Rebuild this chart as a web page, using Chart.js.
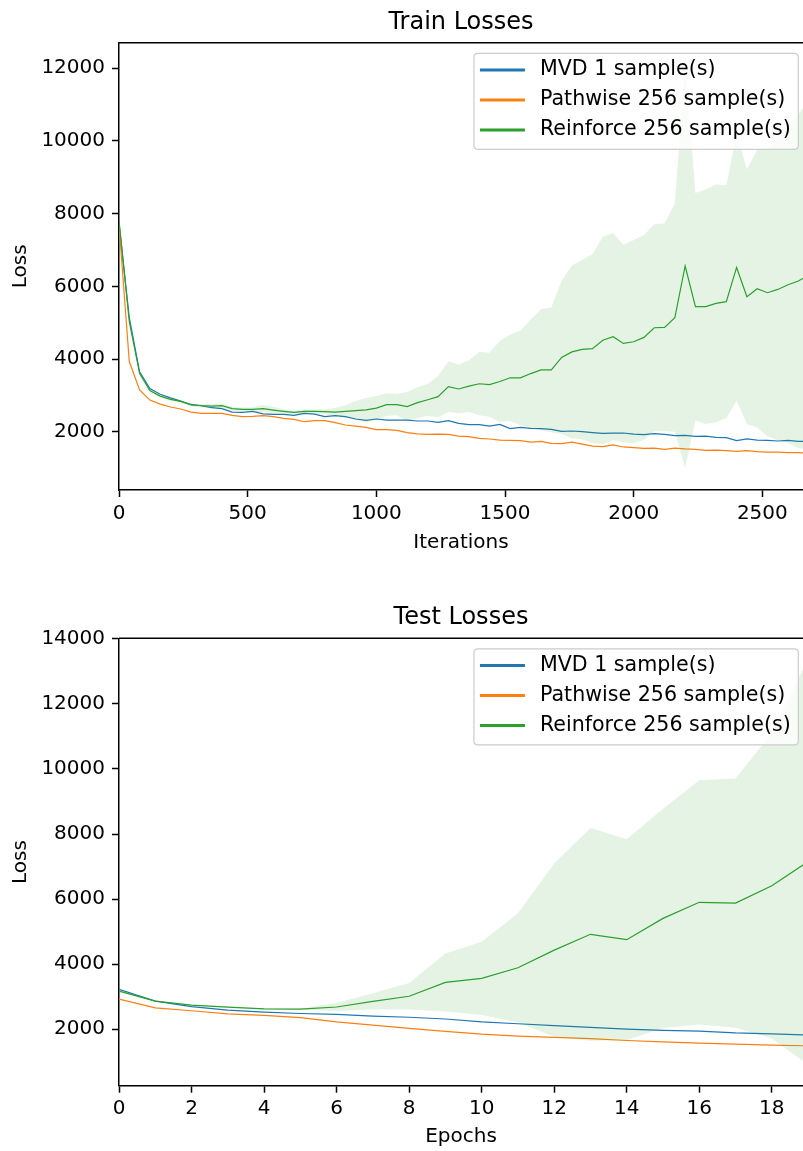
<!DOCTYPE html>
<html>
<head>
<meta charset="utf-8">
<title>Train and Test Losses</title>
<script src="https://cdn.jsdelivr.net/npm/chart.js@4.4.0/dist/chart.umd.min.js"></script>
<style>
    html, body { margin: 0; padding: 0; background: #fff; }
    canvas { display: block; }
</style>
</head>
<body>
<canvas id="trainChart" width="803" height="575"></canvas>
<canvas id="testChart" width="803" height="576"></canvas>
<script>
// ---- data ----
const seriesNames = ['MVD 1 sample(s)', 'Pathwise 256 sample(s)', 'Reinforce 256 sample(s)'];
const seriesColors = ['#1f77b4', '#ff7f0e', '#2ca02c'];

const trainIters = [
    0, 40, 80, 120, 160, 200, 240, 280, 320, 360,
    400, 440, 480, 520, 560, 600, 640, 680, 720, 760,
    800, 840, 880, 920, 960, 1000, 1040, 1080, 1120, 1160,
    1200, 1240, 1280, 1320, 1360, 1400, 1440, 1480, 1520, 1560,
    1600, 1640, 1680, 1720, 1760, 1800, 1840, 1880, 1920, 1960,
    2000, 2040, 2080, 2120, 2160, 2200, 2240, 2280, 2320, 2360,
    2400, 2440, 2480, 2520, 2560, 2600, 2640, 2680
];
const mvdTrain = [
    7750, 5140, 3650, 3190, 3030, 2930, 2840, 2750, 2715, 2660,
    2635, 2540, 2530, 2560, 2490, 2475, 2475, 2450, 2505, 2485,
    2415, 2440, 2415, 2350, 2310, 2350, 2320, 2320, 2320, 2295,
    2295, 2255, 2305, 2230, 2195, 2195, 2155, 2200, 2085, 2120,
    2090, 2085, 2065, 2010, 2020, 2000, 1975, 1955, 1960, 1965,
    1935, 1920, 1945, 1925, 1890, 1900, 1870, 1880, 1845, 1835,
    1755, 1800, 1770, 1760, 1745, 1760, 1735, 1735
];
const pathTrain = [
    7700, 3930, 3150, 2870, 2760, 2680, 2625, 2540, 2505, 2505,
    2505, 2450, 2415, 2420, 2440, 2415, 2365, 2340, 2275, 2305,
    2305, 2250, 2185, 2155, 2120, 2055, 2055, 2035, 1975, 1940,
    1925, 1935, 1925, 1880, 1865, 1815, 1800, 1770, 1760, 1755,
    1715, 1735, 1680, 1670, 1715, 1660, 1605, 1590, 1635, 1580,
    1560, 1540, 1550, 1515, 1550, 1525, 1515, 1485, 1495, 1480,
    1460, 1480, 1450, 1440, 1440, 1425, 1425, 1405
];
const reinTrain = [
    7800, 5030, 3605, 3130, 2980, 2890, 2835, 2735, 2715, 2705,
    2715, 2635, 2615, 2615, 2635, 2595, 2560, 2530, 2560, 2560,
    2550, 2540, 2560, 2580, 2600, 2650, 2745, 2745, 2690, 2800,
    2880, 2965, 3240, 3175, 3255, 3320, 3295, 3380, 3485, 3480,
    3600, 3700, 3700, 4045, 4195, 4265, 4285, 4515, 4615, 4430,
    4475, 4595, 4860, 4870, 5140, 6560, 5440, 5440, 5530, 5580,
    6520, 5715, 5935, 5825, 5915, 6045, 6145, 6310
];
const reinTrainStd = [
    60, 80, 60, 50, 40, 40, 40, 40, 50, 60,
    60, 50, 50, 60, 100, 90, 60, 50, 60, 60,
    70, 110, 170, 265, 330, 330, 310, 295, 400, 420,
    440, 570, 700, 670, 710, 870, 880, 1120, 1190, 1300,
    1490, 1670, 1715, 2110, 2380, 2470, 2600, 2850, 2850, 2715,
    2800, 2820, 2850, 2860, 3140, 5560, 3130, 3230, 3270, 3200,
    3670, 3500, 3820, 3960, 4140, 4360, 4600, 4800
];

const testEpochs = [0, 1, 2, 3, 4, 5, 6, 7, 8, 9, 10, 11, 12, 13, 14, 15, 16, 17, 18, 19];
const mvdTest = [3220, 2860, 2690, 2585, 2525, 2480, 2450, 2400, 2365, 2310, 2225, 2165, 2105, 2050, 2000, 1960, 1940, 1885, 1855, 1820];
const pathTest = [2925, 2655, 2565, 2470, 2420, 2350, 2225, 2125, 2025, 1930, 1845, 1785, 1745, 1705, 1650, 1610, 1570, 1540, 1510, 1485];
const reinTest = [3170, 2860, 2740, 2675, 2625, 2615, 2680, 2850, 3010, 3435, 3560, 3885, 4430, 4915, 4750, 5405, 5900, 5875, 6410, 7150];
const reinTestStd = [30, 20, 20, 20, 20, 20, 120, 250, 410, 890, 1130, 1680, 2665, 3270, 3090, 3370, 3755, 3835, 4700, 6240];

const trainXTicks = [0, 500, 1000, 1500, 2000, 2500];
const trainYTicks = [2000, 4000, 6000, 8000, 10000, 12000];
const testXTicks = [0, 2, 4, 6, 8, 10, 12, 14, 16, 18];
const testYTicks = [2000, 4000, 6000, 8000, 10000, 12000, 14000];

// ---- chart setup ----
Chart.defaults.font.family = "'DejaVu Sans', sans-serif";
Chart.defaults.color = '#000';

const FONT = "'DejaVu Sans', sans-serif";

// matplotlib style legend box in the upper right of the axes
const boxLegend = {
    id: 'boxLegend',
    afterDraw(chart) {
        const ctx = chart.ctx;
        const area = chart.chartArea;
        ctx.save();
        ctx.font = '20.6px ' + FONT;
        const textW = Math.max(...seriesNames.map(s => ctx.measureText(s).width));
        const w = 66 + textW + 7.6;
        const h = 96;
        const x = area.right - 4.7 - w;
        const y = area.top + 10.6;
        const r = 4;
        ctx.beginPath();
        ctx.moveTo(x + r, y);
        ctx.lineTo(x + w - r, y);
        ctx.quadraticCurveTo(x + w, y, x + w, y + r);
        ctx.lineTo(x + w, y + h - r);
        ctx.quadraticCurveTo(x + w, y + h, x + w - r, y + h);
        ctx.lineTo(x + r, y + h);
        ctx.quadraticCurveTo(x, y + h, x, y + h - r);
        ctx.lineTo(x, y + r);
        ctx.quadraticCurveTo(x, y, x + r, y);
        ctx.closePath();
        ctx.fillStyle = 'rgba(255,255,255,0.8)';
        ctx.fill();
        ctx.strokeStyle = '#cccccc';
        ctx.lineWidth = 1.2;
        ctx.stroke();

        seriesNames.forEach((name, i) => {
            const ry = y + 16.7 + i * 30;
            ctx.strokeStyle = seriesColors[i];
            ctx.lineWidth = 3;
            ctx.beginPath();
            ctx.moveTo(x + 6, ry);
            ctx.lineTo(x + 51, ry);
            ctx.stroke();
            ctx.fillStyle = '#000';
            ctx.textBaseline = 'middle';
            ctx.textAlign = 'left';
            ctx.fillText(name, x + 66, ry);
        });
        ctx.restore();
    }
};

// top spine of the axes box
const topSpine = {
    id: 'topSpine',
    afterDatasetsDraw(chart) {
        const { ctx, chartArea: a } = chart;
        ctx.save();
        ctx.strokeStyle = '#000';
        ctx.lineWidth = 1.5;
        ctx.beginPath();
        ctx.moveTo(a.left, a.top);
        ctx.lineTo(a.right, a.top);
        ctx.stroke();
        ctx.restore();
    }
};

function points(xs, ys) {
    return xs.map((x, i) => ({ x: x, y: ys[i] }));
}

function makeChart(id, opt) {
    const ctx = document.getElementById(id).getContext('2d');
    const upper = opt.rein.map((v, i) => v + opt.reinStd[i]);
    const lower = opt.rein.map((v, i) => v - opt.reinStd[i]);
    const lineStyle = { borderWidth: 1.2, pointRadius: 0, tension: 0, fill: false };

    return new Chart(ctx, {
        type: 'line',
        data: {
            datasets: [
                Object.assign({ label: seriesNames[2], data: points(opt.xs, opt.rein), borderColor: seriesColors[2] }, lineStyle),
                {
                    label: 'band upper',
                    data: points(opt.xs, upper),
                    borderWidth: 0,
                    borderColor: 'rgba(0,0,0,0)',
                    backgroundColor: 'rgba(44, 160, 44, 0.12)',
                    pointRadius: 0,
                    tension: 0,
                    fill: '+1'
                },
                {
                    label: 'band lower',
                    data: points(opt.xs, lower),
                    borderWidth: 0,
                    borderColor: 'rgba(0,0,0,0)',
                    pointRadius: 0,
                    tension: 0,
                    fill: false
                },
                Object.assign({ label: seriesNames[1], data: points(opt.xs, opt.path), borderColor: seriesColors[1] }, lineStyle),
                Object.assign({ label: seriesNames[0], data: points(opt.xs, opt.mvd), borderColor: seriesColors[0] }, lineStyle)
            ]
        },
        options: {
            responsive: false,
            animation: false,
            events: [],
            layout: { padding: 0 },
            plugins: {
                legend: { display: false },
                tooltip: { enabled: false },
                title: {
                    display: true,
                    text: opt.title,
                    fullSize: false,
                    font: { size: 24, weight: 'normal', family: FONT },
                    color: '#000',
                    padding: opt.titlePad
                }
            },
            scales: {
                x: {
                    type: 'linear',
                    min: 0,
                    max: opt.xMax,
                    afterBuildTicks: s => { s.ticks = opt.xTicks.map(v => ({ value: v })); },
                    afterFit: s => { s.height = opt.xHeight; },
                    ticks: {
                        font: { size: 20, family: FONT },
                        color: '#000',
                        padding: 4.5,
                        maxRotation: 0,
                        autoSkip: false,
                        callback: v => String(v)
                    },
                    grid: {
                        display: true,
                        drawOnChartArea: false,
                        drawTicks: true,
                        tickLength: 7,
                        tickColor: '#000',
                        tickWidth: 1.5
                    },
                    border: { display: true, color: '#000', width: 1.5 },
                    title: {
                        display: true,
                        text: opt.xLabel,
                        font: { size: 20, family: FONT },
                        color: '#000',
                        padding: { top: 0, bottom: opt.xTitlePad }
                    }
                },
                y: {
                    type: 'linear',
                    min: opt.yMin,
                    max: opt.yMax,
                    afterBuildTicks: s => { s.ticks = opt.yTicks.map(v => ({ value: v })); },
                    afterFit: s => { s.width = 119; },
                    ticks: {
                        font: { size: 20, family: FONT },
                        color: '#000',
                        padding: 7,
                        autoSkip: false,
                        callback: v => String(v)
                    },
                    grid: {
                        display: true,
                        drawOnChartArea: false,
                        drawTicks: true,
                        tickLength: 7,
                        tickColor: '#000',
                        tickWidth: 1.5
                    },
                    border: { display: true, color: '#000', width: 1.5 },
                    title: {
                        display: true,
                        text: 'Loss',
                        font: { size: 20, family: FONT },
                        color: '#000',
                        padding: { top: 8.5, bottom: 0 }
                    }
                }
            }
        },
        plugins: [topSpine, boxLegend]
    });
}

makeChart('trainChart', {
    title: 'Train Losses',
    xLabel: 'Iterations',
    xs: trainIters,
    mvd: mvdTrain,
    path: pathTrain,
    rein: reinTrain,
    reinStd: reinTrainStd,
    xTicks: trainXTicks,
    yTicks: trainYTicks,
    xMax: 2658,
    yMin: 396,
    yMax: 12704,
    titlePad: { top: 8.1, bottom: 5.8 },
    xHeight: 85,
    xTitlePad: 20.6
});

makeChart('testChart', {
    title: 'Test Losses',
    xLabel: 'Epochs',
    xs: testEpochs,
    mvd: mvdTest,
    path: pathTest,
    rein: reinTest,
    reinStd: reinTestStd,
    xTicks: testXTicks,
    yTicks: testYTicks,
    xMax: 18.86,
    yMin: 259,
    yMax: 14020,
    titlePad: { top: 28.1, bottom: 6.4 },
    xHeight: 65.3,
    xTitlePad: 1.9
});
</script>
</body>
</html>
